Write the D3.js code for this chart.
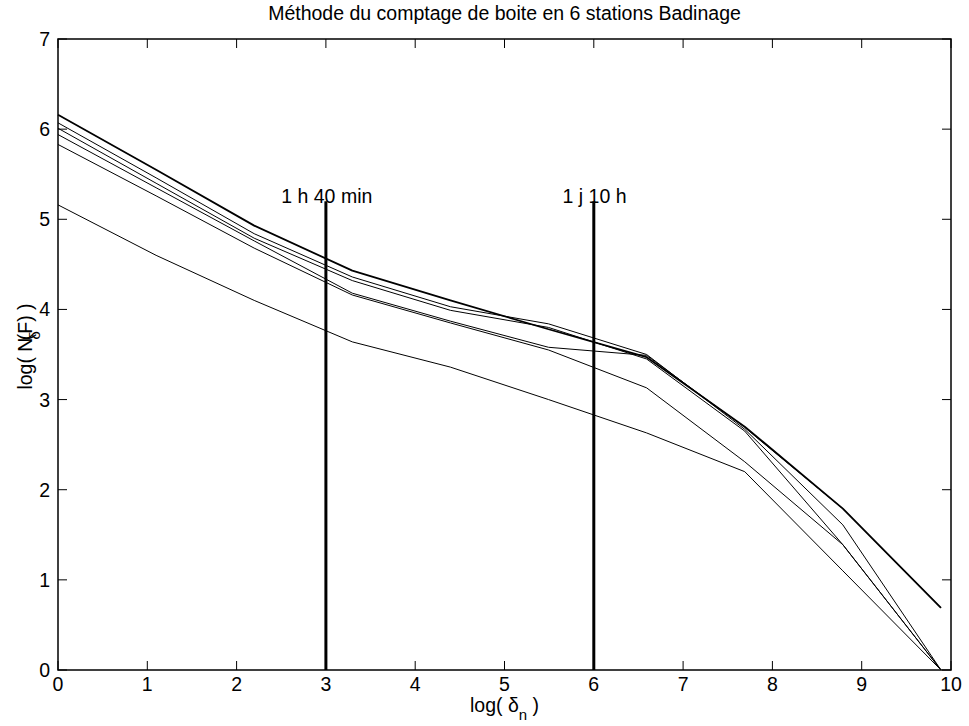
<!DOCTYPE html>
<html lang="fr">
<head>
<meta charset="UTF-8">
<title>Comptage de boite</title>
<script src="https://d3js.org/d3.v7.min.js"></script>
<style>
    body { margin: 0; background: #fff; }
    text { font-family: "Liberation Sans", Arial, Helvetica, sans-serif; fill: #000; font-size: 19.5px; }
</style>
</head>
<body>
<div id="chart"></div>
<script>
// log(delta_n) for each box size
const logDelta = [0, 1.0986, 2.1972, 3.2958, 4.3944, 5.4931, 6.5917, 7.6903, 8.7889, 9.8875];

// log(N(F)) per station
const station1 = [6.16, 5.55, 4.93, 4.43, 4.10, 3.78, 3.47, 2.70, 1.79, 0.69];
const station2 = [6.07, 5.46, 4.84, 4.36, 4.03, 3.84, 3.50, 2.67, 1.61, 0];
const station3 = [6.01, 5.40, 4.79, 4.32, 3.99, 3.80, 3.45, 2.65, 1.39, 0];
const station4 = [5.94, 5.35, 4.76, 4.18, 3.87, 3.58, 3.49, 2.69, 1.79, 0.69];
const station5 = [5.83, 5.26, 4.68, 4.16, 3.85, 3.55, 3.13, 2.31, 1.39, 0];
const station6 = [5.16, 4.60, 4.10, 3.64, 3.36, 3.00, 2.63, 2.20, 1.10, 0];

const stations = [station1, station2, station3, station4, station5, station6];

// time scale markers
const markerX = [3, 6];
const markerTop = 5.2;
const markerLabels = ["1 h 40 min", "1 j 10 h"];
const markerLabelX = [2.5, 5.65];

const xTicks = d3.range(0, 11);
const yTicks = d3.range(0, 8);

const W = 969, H = 726;
const margin = { top: 39, right: 18, bottom: 56, left: 58 };

const svg = d3.select("#chart").append("svg")
    .attr("width", W)
    .attr("height", H);

const x = d3.scaleLinear().domain([0, 10]).range([margin.left, W - margin.right]);
const y = d3.scaleLinear().domain([0, 7]).range([H - margin.bottom, margin.top]);

// title
svg.append("text")
    .attr("x", (x(0) + x(10)) / 2)
    .attr("y", 20)
    .attr("text-anchor", "middle")
    .text("Méthode du comptage de boite en 6 stations Badinage");

// ticks inside on all four sides
const tickLen = 9;
const ticks = svg.append("g").attr("stroke", "#000").attr("stroke-width", 1);
xTicks.forEach(t => {
    ticks.append("line").attr("x1", x(t)).attr("x2", x(t)).attr("y1", y(0)).attr("y2", y(0) - tickLen);
    ticks.append("line").attr("x1", x(t)).attr("x2", x(t)).attr("y1", y(7)).attr("y2", y(7) + tickLen);
});
yTicks.forEach(t => {
    ticks.append("line").attr("x1", x(0)).attr("x2", x(0) + tickLen).attr("y1", y(t)).attr("y2", y(t));
    ticks.append("line").attr("x1", x(10)).attr("x2", x(10) - tickLen).attr("y1", y(t)).attr("y2", y(t));
});

svg.append("g").selectAll("text")
    .data(xTicks)
    .join("text")
    .attr("x", d => x(d))
    .attr("y", y(0) + 21)
    .attr("text-anchor", "middle")
    .text(d => d);

svg.append("g").selectAll("text")
    .data(yTicks)
    .join("text")
    .attr("x", x(0) - 8)
    .attr("y", d => y(d) + 7)
    .attr("text-anchor", "end")
    .text(d => d);

// station curves
const line = d3.line()
    .x((d, i) => x(logDelta[i]))
    .y(d => y(d));

svg.append("g").selectAll("path")
    .data(stations)
    .join("path")
    .attr("d", line)
    .attr("fill", "none")
    .attr("stroke", "#000")
    .attr("stroke-width", (d, i) => i === 0 ? 1.8 : 1)
    .attr("stroke-linejoin", "round");

// vertical markers
svg.append("g").selectAll("line")
    .data(markerX)
    .join("line")
    .attr("x1", d => x(d))
    .attr("x2", d => x(d))
    .attr("y1", y(0))
    .attr("y2", y(markerTop))
    .attr("stroke", "#000")
    .attr("stroke-width", 3);

svg.append("g").selectAll("text")
    .data(markerLabels)
    .join("text")
    .attr("x", (d, i) => x(markerLabelX[i]))
    .attr("y", y(markerTop) + 2)
    .text(d => d);

// box
svg.append("rect")
    .attr("x", x(0))
    .attr("y", y(7))
    .attr("width", x(10) - x(0))
    .attr("height", y(0) - y(7))
    .attr("fill", "none")
    .attr("stroke", "#000")
    .attr("stroke-width", 1.5);

// axis labels
const xl = svg.append("text")
    .attr("x", (x(0) + x(10)) / 2)
    .attr("y", 712)
    .attr("text-anchor", "middle");
xl.append("tspan").text("log( δ");
xl.append("tspan").attr("dy", 8).style("font-size", "15px").text("n");
xl.append("tspan").attr("dy", -8).text(" )");

const yl = svg.append("text")
    .attr("transform", `translate(32, ${(y(0) + y(7)) / 2 - 8}) rotate(-90)`)
    .attr("text-anchor", "middle");
yl.append("tspan").text("log( N");
yl.append("tspan").attr("dy", 8).attr("dx", -2).style("font-size", "15px").text("δ");
yl.append("tspan").attr("dy", -8).attr("dx", -9).text("(F) )");
</script>
</body>
</html>
